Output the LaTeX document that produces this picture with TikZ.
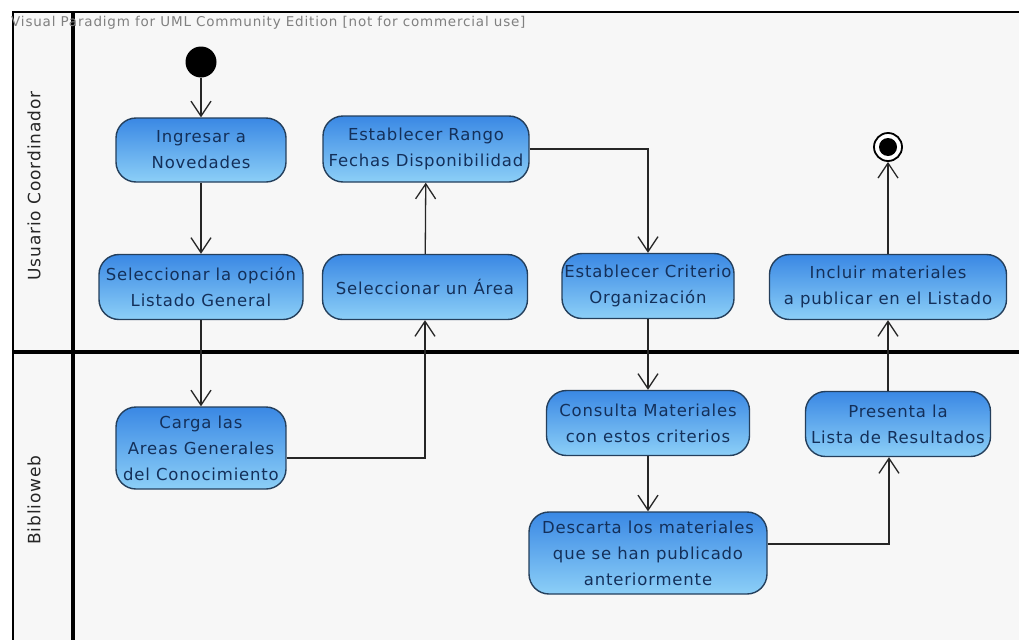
\documentclass[tikz,border=0pt]{standalone}
\usepackage{fontspec}
\setmainfont{DejaVu Sans}
\newfontfamily\actfont[LetterSpace=5]{DejaVu Sans}
\newfontfamily\markfont[LetterSpace=6]{DejaVu Sans}
\usetikzlibrary{arrows.meta,calc}
\definecolor{lanebg}{HTML}{F7F7F7}
\definecolor{acttop}{HTML}{3A88E4}
\definecolor{actbot}{HTML}{8CCFF7}
\definecolor{actline}{HTML}{243F5C}
\definecolor{acttext}{HTML}{14305A}
\tikzset{
  activity/.style={draw=actline, line width=1.4pt, rounded corners=20pt,
    top color=acttop, bottom color=actbot, text=acttext, align=center,
    font=\actfont\fontsize{16.5}{26}\selectfont, inner sep=0pt},
  flow/.style={line width=1.3pt, draw=black!85,
    -{Straight Barb[length=15pt,width=20pt,line width=1.3pt]}},
  lanelabel/.style={rotate=90, font=\actfont\fontsize{17}{20}\selectfont, text=black!85},
}
\begin{document}
\begin{tikzpicture}[x=1pt,y=-1pt]
\useasboundingbox (0,0) rectangle (1019,640);
\fill[white] (0,0) rectangle (1019,640);

% swimlane frame
\fill[lanebg] (12,12) rectangle (1019,640);
\draw[line width=2pt] (12,12) -- (1019,12);
\draw[line width=2.5pt] (13,12) -- (13,640);
\draw[line width=4pt] (73,12) -- (73,640);
\draw[line width=3.5pt] (12,352) -- (1019,352);

\node[anchor=base west, text=black!50, font=\markfont\fontsize{13.5}{15}\selectfont, inner sep=0pt]
  (wm) at (11,26) {Visual Paradigm for UML Community Edition [not for commercial use]};

\node[lanelabel] (lane1) at (34,186) {Usuario Coordinador};
\node[lanelabel] (lane2) at (34,500) {Biblioweb};

% initial and final nodes
\node[circle, fill=black, minimum size=31pt, inner sep=0pt] (ini) at (201,62) {};
\node[circle, draw=black, line width=1.8pt, fill=white, minimum size=28pt, inner sep=0pt] (fin) at (888,147) {};
\node[circle, fill=black, minimum size=18pt, inner sep=0pt] (finin) at (888,147) {};

% activities
\node[activity, minimum width=170pt, minimum height=64pt] (ingresar) at (201,150) {Ingresar a\\Novedades};
\node[activity, minimum width=204pt, minimum height=65pt] (selopc) at (201,287) {Seleccionar la opción\\Listado General};
\node[activity, minimum width=206pt, minimum height=66pt] (rango) at (426,149) {Establecer Rango\\Fechas Disponibilidad};
\node[activity, minimum width=205pt, minimum height=65pt] (selarea) at (425,287) {Seleccionar un Área};
\node[activity, minimum width=172pt, minimum height=65pt] (criterio) at (648,286) {Establecer Criterio\\Organización};
\node[activity, minimum width=237pt, minimum height=65pt] (incluir) at (888,287) {Incluir materiales\\a publicar en el Listado};
\node[activity, minimum width=170pt, minimum height=82pt] (carga) at (201,448) {Carga las\\Areas Generales\\del Conocimiento};
\node[activity, minimum width=203pt, minimum height=65pt] (consulta) at (648,423) {Consulta Materiales\\con estos criterios};
\node[activity, minimum width=185pt, minimum height=65pt] (presenta) at (898,424) {Presenta la\\Lista de Resultados};
\node[activity, minimum width=238pt, minimum height=82pt] (descarta) at (648,553) {Descarta los materiales\\que se han publicado\\anteriormente};

% control flows
\draw[flow] (ini) -- (ingresar);
\draw[flow] (ingresar) -- (selopc);
\draw[flow] (selopc) -- (carga);
\draw[flow] ([yshift=-10pt]carga.east) -| (selarea.south);
\draw[flow] (selarea) -- (rango);
\draw[flow] (rango.east) -| (criterio.north);
\draw[flow] (criterio) -- (consulta);
\draw[flow] (consulta) -- (descarta);
\draw[flow] ([yshift=9pt]descarta.east) -| ([xshift=-9pt]presenta.south);
\draw[flow] ([xshift=-10pt]presenta.north) -- (incluir.south);
\draw[flow] (incluir.north) -- (fin);
\end{tikzpicture}
\end{document}
